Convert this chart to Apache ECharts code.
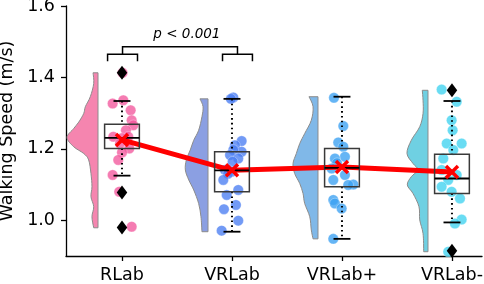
<!DOCTYPE html>
<html><head><meta charset="utf-8">
<script src="https://cdn.jsdelivr.net/npm/echarts@6/dist/echarts.min.js"></script>
<style>html,body{margin:0;padding:0;background:#fff}#c{width:484px;height:284px}</style>
</head><body><div id="c"></div>
<script>
// ---------------- DATA ----------------
const categories = ['RLab', 'VRLab', 'VRLab+', 'VRLab-'];
const yTicks = [1.0, 1.2, 1.4, 1.6];
const means = [1.225, 1.14, 1.149, 1.135];
// [whisker low, Q1, median, Q3, whisker high]
const boxStats = [
  [1.125, 1.201, 1.231, 1.269, 1.334],
  [0.968, 1.080, 1.140, 1.192, 1.340],
  [0.948, 1.094, 1.147, 1.201, 1.346],
  [0.994, 1.075, 1.117, 1.185, 1.334]
];
const outlierGroup = [0, 0, 0, 3, 3];
const outlierValues = [1.413, 1.078, 0.980, 1.364, 0.915];

const rlabValues  = [1.413, 1.336, 1.327, 1.308, 1.280, 1.266, 1.252, 1.234, 1.230, 1.234, 1.215, 1.201, 1.190, 1.169, 1.127, 1.080, 0.982];
const rlabJitter  = [0.005, 0.012, -0.085, 0.079, 0.088, 0.103, 0.036, 0.057, -0.003, -0.079, -0.018, 0.066, 0.000, -0.034, -0.085, -0.025, 0.088];
const vrlabValues = [1.344, 1.340, 1.222, 1.210, 1.192, 1.197, 1.183, 1.173, 1.164, 1.141, 1.141, 1.136, 1.130, 1.113, 1.085, 1.071, 1.043, 1.031, 0.999, 0.971];
const vrlabJitter = [0.012, -0.010, 0.088, 0.027, 0.088, 0.012, -0.018, 0.057, 0.006, -0.064, -0.034, -0.003, -0.036, -0.079, 0.057, -0.048, 0.036, -0.073, 0.057, -0.094];
const vrlabPlusValues = [1.343, 1.264, 1.218, 1.206, 1.178, 1.173, 1.160, 1.145, 1.127, 1.113, 1.100, 1.099, 1.057, 1.047, 1.033, 0.948];
const vrlabPlusJitter = [-0.073, 0.012, -0.034, 0.012, 0.027, -0.064, -0.045, -0.094, 0.027, -0.079, 0.103, 0.057, -0.079, -0.064, -0.003, -0.079];
const vrlabMinusValues = [1.366, 1.332, 1.280, 1.252, 1.215, 1.215, 1.197, 1.173, 1.141, 1.127, 1.113, 1.094, 1.080, 1.061, 1.002, 0.991, 0.912];
const vrlabMinusJitter = [-0.094, 0.043, -0.003, 0.006, -0.048, 0.088, 0.012, -0.079, -0.094, 0.043, -0.034, -0.094, -0.003, 0.073, 0.088, 0.027, -0.034];

// half violin outlines: [value, half-width in category units]
const rlabViolin = [[1.413,0.045],[1.383,0.039],[1.346,0.070],[1.318,0.115],[1.299,0.130],[1.275,0.175],[1.257,0.221],[1.232,0.282],[1.206,0.221],[1.187,0.130],[1.169,0.085],[1.131,0.064],[1.094,0.055],[1.066,0.064],[1.038,0.039],[1.010,0.055],[0.979,0.039]];
const vrlabViolin = [[1.340,0.073],[1.318,0.045],[1.290,0.055],[1.252,0.085],[1.224,0.130],[1.197,0.161],[1.169,0.197],[1.141,0.206],[1.113,0.175],[1.085,0.130],[1.047,0.085],[1.010,0.064],[0.968,0.055]];
const vrlabPlusViolin = [[1.346,0.082],[1.318,0.045],[1.280,0.061],[1.243,0.121],[1.215,0.166],[1.187,0.197],[1.159,0.227],[1.131,0.212],[1.103,0.166],[1.075,0.136],[1.047,0.121],[1.010,0.075],[0.973,0.061],[0.948,0.045]];
const vrlabMinusViolin = [[1.364,0.052],[1.336,0.045],[1.299,0.045],[1.262,0.075],[1.224,0.152],[1.187,0.191],[1.159,0.136],[1.141,0.091],[1.122,0.152],[1.099,0.188],[1.075,0.136],[1.038,0.082],[1.001,0.075],[0.963,0.045],[0.912,0.039]];

const pText = 'p < 0.001';

// ---------------- STYLE ----------------
const violinColors = ['#f585af', '#8b9fe2', '#80b8e8', '#6fd0e2'];
const pointColors = ['#f2579c', '#4a7ef2', '#3aa0f2', '#3fd2f0'];
const FONT = 'DejaVu Sans';
const violinBase = -0.218;
const boxHalf = 0.158;
const capHalf = 0.077;

const groups = [
  {values: rlabValues, jitter: rlabJitter, violin: rlabViolin},
  {values: vrlabValues, jitter: vrlabJitter, violin: vrlabViolin},
  {values: vrlabPlusValues, jitter: vrlabPlusJitter, violin: vrlabPlusViolin},
  {values: vrlabMinusValues, jitter: vrlabMinusJitter, violin: vrlabMinusViolin}
];

// smooth outline through screen points (Catmull-Rom -> cubic Bezier), rendering only
function smoothPath(pts) {
  let d = '';
  for (let i = 0; i < pts.length - 1; i++) {
    const p0 = pts[Math.max(0, i - 1)], p1 = pts[i], p2 = pts[i + 1], p3 = pts[Math.min(pts.length - 1, i + 2)];
    const c1 = [p1[0] + (p2[0] - p0[0]) / 6, p1[1] + (p2[1] - p0[1]) / 6];
    const c2 = [p2[0] - (p3[0] - p1[0]) / 6, p2[1] - (p3[1] - p1[1]) / 6];
    d += 'C' + c1[0] + ' ' + c1[1] + ' ' + c2[0] + ' ' + c2[1] + ' ' + p2[0] + ' ' + p2[1];
  }
  return d;
}

const chart = echarts.init(document.getElementById('c'), null, {renderer: 'canvas'});

const scatterSeries = groups.map((g, gi) => ({
  type: 'scatter',
  z: 3,
  symbolSize: 10.5,
  itemStyle: {color: pointColors[gi], opacity: 0.78, borderColor: '#fff', borderWidth: 0.4},
  data: g.values.map((v, i) => [gi + g.jitter[i], v])
}));

const option = {
  animation: false,
  backgroundColor: '#fff',
  grid: {left: 66, right: 2, top: 6, bottom: 28, containLabel: false, outerBoundsMode: 'none'},
  xAxis: {
    type: 'value', min: -0.509, max: 3.273,
    splitLine: {show: false},
    axisLine: {show: true, onZero: false, lineStyle: {color: '#000', width: 1.3}},
    axisTick: {show: true, length: 5, lineStyle: {color: '#000', width: 1.3}, customValues: [0, 1, 2, 3]},
    axisLabel: {customValues: [0, 1, 2, 3], formatter: v => categories[Math.round(v)], fontFamily: FONT, fontSize: 17.5, color: '#000', margin: 10, hideOverlap: false, showMaxLabel: true, showMinLabel: true}
  },
  yAxis: {
    type: 'value', min: 0.9, max: 1.6,
    name: 'Walking Speed (m/s)', nameLocation: 'middle', nameGap: 49,
    nameTextStyle: {fontFamily: FONT, fontSize: 17.5, color: '#000'},
    splitLine: {show: false},
    axisLine: {show: true, onZero: false, lineStyle: {color: '#000', width: 1.3}},
    axisTick: {show: true, length: 5, lineStyle: {color: '#000', width: 1.3}, customValues: yTicks},
    axisLabel: {customValues: yTicks, formatter: v => v.toFixed(1), fontFamily: FONT, fontSize: 17.5, color: '#000', margin: 11}
  },
  series: [
    // violins
    {
      type: 'custom', z: 1,
      data: categories.map((c, i) => [i, means[i]]),
      renderItem: (params, api) => {
        const i = params.dataIndex;
        const prof = groups[i].violin;
        const base = i + violinBase;
        const top = api.coord([base, prof[0][0]]);
        const bot = api.coord([base, prof[prof.length - 1][0]]);
        const outline = prof.map(p => api.coord([base - p[1], p[0]]));
        const d = 'M' + top[0] + ' ' + top[1] + 'L' + outline[0][0] + ' ' + outline[0][1] +
          smoothPath(outline) + 'L' + bot[0] + ' ' + bot[1] + 'Z';
        return {
          type: 'path',
          shape: {pathData: d},
          style: {fill: violinColors[i], stroke: '#8c8c8c', lineWidth: 1}
        };
      }
    },
    ...scatterSeries,
    // mean line
    {
      type: 'line', z: 4,
      data: means.map((m, i) => [i, m]),
      symbol: 'none',
      lineStyle: {color: '#ff0000', width: 5},
      itemStyle: {color: '#ff0000'}
    },
    // boxes + whiskers
    {
      type: 'custom', z: 5,
      data: boxStats.map((b, i) => [i, b[0], b[1], b[2], b[3], b[4]]),
      renderItem: (params, api) => {
        const i = api.value(0);
        const lo = api.value(1), q1 = api.value(2), med = api.value(3), q3 = api.value(4), hi = api.value(5);
        const tl = api.coord([i - boxHalf, q3]);
        const br = api.coord([i + boxHalf, q1]);
        const mL = api.coord([i - boxHalf, med]);
        const mR = api.coord([i + boxHalf, med]);
        const wTop = api.coord([i, hi]);
        const wQ3 = api.coord([i, q3]);
        const wQ1 = api.coord([i, q1]);
        const wBot = api.coord([i, lo]);
        const cL1 = api.coord([i - capHalf, hi]), cR1 = api.coord([i + capHalf, hi]);
        const cL2 = api.coord([i - capHalf, lo]), cR2 = api.coord([i + capHalf, lo]);
        const dot = {stroke: '#000', lineWidth: 2, lineDash: [1.6, 3.2]};
        const solid = {stroke: '#000', lineWidth: 1.8};
        return {
          type: 'group',
          children: [
            {type: 'line', shape: {x1: wTop[0], y1: wTop[1], x2: wQ3[0], y2: wQ3[1]}, style: dot},
            {type: 'line', shape: {x1: wQ1[0], y1: wQ1[1], x2: wBot[0], y2: wBot[1]}, style: dot},
            {type: 'rect', shape: {x: tl[0], y: tl[1], width: br[0] - tl[0], height: br[1] - tl[1]}, style: {fill: 'none', stroke: '#3a3a3a', lineWidth: 1.5}},
            {type: 'line', shape: {x1: mL[0], y1: mL[1], x2: mR[0], y2: mR[1]}, style: solid},
            {type: 'line', shape: {x1: cL1[0], y1: cL1[1], x2: cR1[0], y2: cR1[1]}, style: solid},
            {type: 'line', shape: {x1: cL2[0], y1: cL2[1], x2: cR2[0], y2: cR2[1]}, style: solid}
          ]
        };
      }
    },
    // outliers
    {
      type: 'scatter', z: 6,
      symbol: 'diamond', symbolSize: [10.5, 14],
      itemStyle: {color: '#000', opacity: 1},
      data: outlierValues.map((v, i) => [outlierGroup[i], v])
    },
    // mean X markers
    {
      type: 'custom', z: 7,
      data: means.map((m, i) => [i, m]),
      renderItem: (params, api) => {
        const p = api.coord([api.value(0), api.value(1)]);
        const s = 6;
        const st = {stroke: '#ff0000', lineWidth: 3.5};
        return {
          type: 'group',
          children: [
            {type: 'line', shape: {x1: p[0] - s, y1: p[1] - s, x2: p[0] + s, y2: p[1] + s}, style: st},
            {type: 'line', shape: {x1: p[0] - s, y1: p[1] + s, x2: p[0] + s, y2: p[1] - s}, style: st}
          ]
        };
      }
    },
    // significance bracket
    {
      type: 'custom', z: 8,
      data: [[0, 1]],
      renderItem: (params, api) => {
        const a = api.value(0), b = api.value(1);
        const leg = 0.136;
        const yTop = 1.486, yMid = 1.465, yLeg = 1.445;
        const P = (x, y) => api.coord([x, y]);
        const st = {stroke: '#000', lineWidth: 1.5, fill: 'none'};
        const centerA = a + 0.005, centerB = b + 0.05;
        const t = P(0.59, 1.5);
        return {
          type: 'group',
          children: [
            {type: 'polyline', shape: {points: [P(centerA - leg, yLeg), P(centerA - leg, yMid), P(centerA + leg, yMid), P(centerA + leg, yLeg)]}, style: st},
            {type: 'polyline', shape: {points: [P(centerB - leg, yLeg), P(centerB - leg, yMid), P(centerB + leg, yMid), P(centerB + leg, yLeg)]}, style: st},
            {type: 'polyline', shape: {points: [P(centerA, yMid), P(centerA, yTop), P(centerB, yTop), P(centerB, yMid)]}, style: st},
            {type: 'text', x: t[0], y: t[1], style: {text: pText, fontFamily: FONT, fontStyle: 'italic', fontSize: 13.5, fill: '#000', align: 'center', verticalAlign: 'bottom'}}
          ]
        };
      }
    }
  ]
};
chart.setOption(option);
</script>
</body></html>
